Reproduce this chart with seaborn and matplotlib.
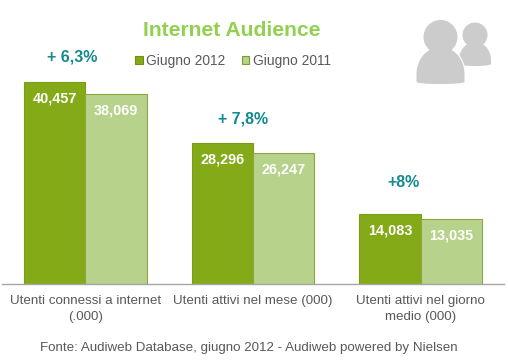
import matplotlib
matplotlib.use("Agg")
import matplotlib.pyplot as plt
import seaborn as sns
import pandas as pd
import numpy as np
from matplotlib.patches import Ellipse, Polygon
from matplotlib.transforms import Affine2D

categories = ["Utenti connessi a internet\n(.000)", "Utenti attivi nel mese (000)", "Utenti attivi nel giorno\nmedio (000)"]
series_names = ["Giugno 2012", "Giugno 2011"]
values_2012 = [40457, 28296, 14083]
values_2011 = [38069, 26247, 13035]
changes = ["+ 6,3%", "+ 7,8%", "+8%"]
change_y_px = [57, 119, 182]
change_x_px = [72, 243, 404]
colors = ["#84AA18", "#B7D28A"]
edge_colors = ["#7A9D18", "#8DA83C"]

W, H = 508, 362
sns.set_theme(style="white")
plt.rcParams["font.family"] = ["Liberation Sans", "DejaVu Sans"]

fig = plt.figure(figsize=(W / 100, H / 100), dpi=100, facecolor="white")
base_px = 284
ax = fig.add_axes([1.5 / W, (H - base_px) / H, 503 / W, base_px / H])
ax.patch.set_alpha(0)

df = pd.DataFrame({
    "cat": categories * 2,
    "val": values_2012 + values_2011,
    "serie": [series_names[0]] * 3 + [series_names[1]] * 3,
})
sns.barplot(data=df, x="cat", y="val", hue="serie", hue_order=series_names,
            palette=colors, saturation=1, width=0.73, gap=0, ax=ax, legend=True)
ax.set_xlim(-0.5, 2.5)
ax.set_ylim(0, base_px * 200)
ax.set_xlabel("")
ax.set_ylabel("")
ax.set_yticks([])
for s in ["top", "left", "right"]:
    ax.spines[s].set_visible(False)
ax.spines["bottom"].set_color("#A6A6A6")
ax.spines["bottom"].set_linewidth(1)
ax.tick_params(axis="x", length=0, pad=8, labelsize=9.6, labelcolor="#595959")
for lab in ax.get_xticklabels():
    lab.set_linespacing(1.4)

for cont, ec in zip(ax.containers, edge_colors):
    for bar in cont:
        bar.set_edgecolor(ec)
        bar.set_linewidth(0.8)
    ax.bar_label(cont, labels=[f"{v:,.0f}" for v in cont.datavalues],
                 padding=-17, color="white", fontweight="bold", fontsize=10.4)

handles, labels = ax.get_legend_handles_labels()
leg = ax.legend(handles, labels, ncols=2, frameon=False, fontsize=9.9,
                labelcolor="#595959", handlelength=0.55, handleheight=0.55,
                handletextpad=0.25, columnspacing=1.2, borderpad=0, borderaxespad=0,
                loc="center", bbox_to_anchor=(233 / W, 1 - 61 / H),
                bbox_transform=fig.transFigure)
for h, ec in zip(leg.get_patches(), ["#6F8F14", "#7F9A2E"]):
    h.set_edgecolor(ec)
    h.set_linewidth(0.8)

def px(x, y):
    return x / W, 1 - y / H

fig.text(*px(231.5, 30), "Internet Audience", ha="center", va="center",
         fontsize=15.2, fontweight="bold", color="#92D050")
for txt, x, y in zip(changes, change_x_px, change_y_px):
    fig.text(*px(x, y), txt, ha="center", va="center", fontsize=11.5,
             fontweight="bold", color="#128A8E")
fig.text(*px(248.5, 348), "Fonte: Audiweb Database, giugno 2012 - Audiweb powered by Nielsen",
         ha="center", va="center", fontsize=9.6, color="#595959")

# person icon, in pixel coordinates
tr = Affine2D().scale(1, -1).translate(0, H)
grey = "#CCCCCC"
def person(cx, head_y, head_r, body_top, shoulder_y, bottom_y, body_w, z):
    t = np.linspace(np.pi, 2 * np.pi, 40)
    dome = np.column_stack([cx + body_w / 2 * np.cos(t), shoulder_y + (shoulder_y - body_top) * np.sin(t)])
    t2 = np.linspace(0, np.pi, 20)
    belly = np.column_stack([cx + body_w / 2 * np.cos(t2), bottom_y - 2 + 2 * np.sin(t2)])
    outline = np.vstack([dome, belly])
    for edge, lw, zz in [("white", 1.6, z), (grey, 0, z + 0.5)]:
        fig.add_artist(Polygon(outline, closed=True, transform=tr, facecolor=grey,
                               edgecolor=edge, lw=lw, zorder=zz))
        fig.add_artist(Ellipse((cx, head_y), 2 * head_r, 2 * head_r, transform=tr, facecolor=grey,
                               edgecolor=edge, lw=lw, zorder=zz))

person(475, 35, 12.5, 42, 60, 66, 32, 5)
person(440.5, 37, 17, 47, 74, 84, 48, 6)

fig.savefig("out.png", dpi=100, facecolor="white")
